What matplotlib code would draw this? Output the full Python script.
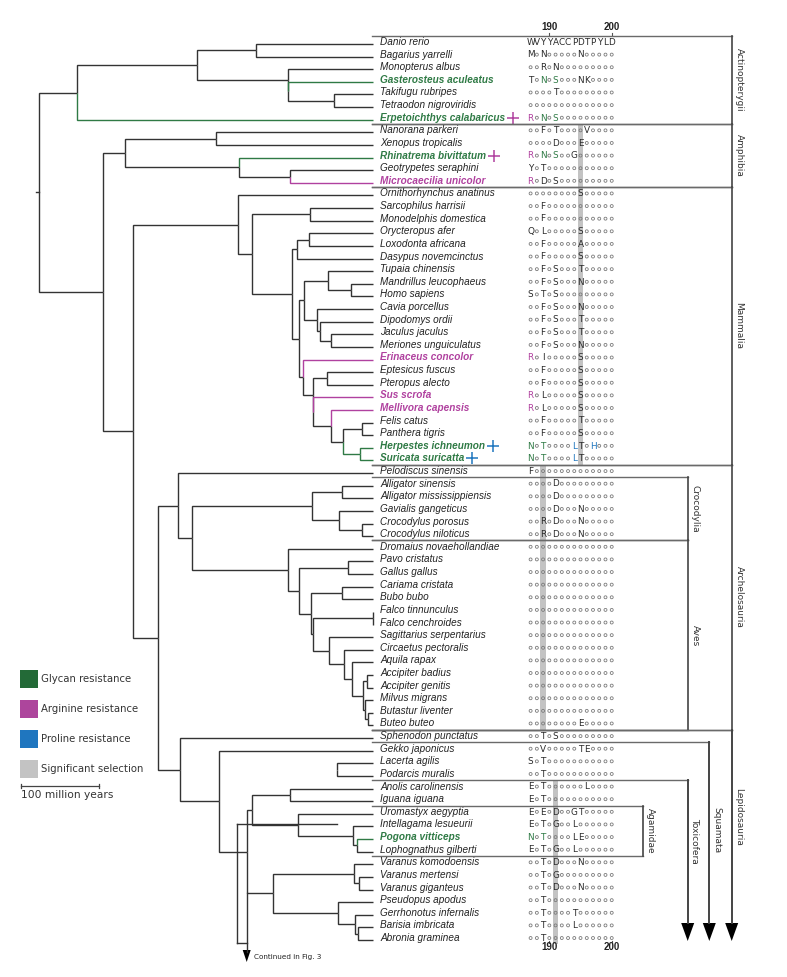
import matplotlib
matplotlib.use("Agg")
import matplotlib.pyplot as plt
from matplotlib.patches import Rectangle, Polygon
from collections import defaultdict

# ======================= DATA =======================
SPECIES = [
    "Danio rerio", "Bagarius yarrelli", "Monopterus albus", "Gasterosteus aculeatus",
    "Takifugu rubripes", "Tetraodon nigroviridis", "Erpetoichthys calabaricus",
    "Nanorana parkeri", "Xenopus tropicalis", "Rhinatrema bivittatum",
    "Geotrypetes seraphini", "Microcaecilia unicolor",
    "Ornithorhynchus anatinus", "Sarcophilus harrisii", "Monodelphis domestica",
    "Orycteropus afer", "Loxodonta africana", "Dasypus novemcinctus", "Tupaia chinensis",
    "Mandrillus leucophaeus", "Homo sapiens", "Cavia porcellus", "Dipodomys ordii",
    "Jaculus jaculus", "Meriones unguiculatus", "Erinaceus concolor", "Eptesicus fuscus",
    "Pteropus alecto", "Sus scrofa", "Mellivora capensis", "Felis catus", "Panthera tigris",
    "Herpestes ichneumon", "Suricata suricatta",
    "Pelodiscus sinensis", "Alligator sinensis", "Alligator mississippiensis",
    "Gavialis gangeticus", "Crocodylus porosus", "Crocodylus niloticus",
    "Dromaius novaehollandiae", "Pavo cristatus", "Gallus gallus", "Cariama cristata",
    "Bubo bubo", "Falco tinnunculus", "Falco cenchroides", "Sagittarius serpentarius",
    "Circaetus pectoralis", "Aquila rapax", "Accipiter badius", "Accipiter genitis",
    "Milvus migrans", "Butastur liventer", "Buteo buteo",
    "Sphenodon punctatus", "Gekko japonicus", "Lacerta agilis", "Podarcis muralis",
    "Anolis carolinensis", "Iguana iguana", "Uromastyx aegyptia", "Intellagama lesueurii",
    "Pogona vitticeps", "Lophognathus gilberti", "Varanus komodoensis", "Varanus mertensi",
    "Varanus giganteus", "Pseudopus apodus", "Gerrhonotus infernalis", "Barisia imbricata",
    "Abronia graminea",
]

SPECIES_PARENT = [
    "Otophysi", "Otophysi", "Percomorpha", "Percomorpha_b", "Tetraodontidae", "Tetraodontidae",
    "Actinopterygii",
    "Anura", "Anura", "Gymnophiona", "Teresomata", "Teresomata",
    "Mammalia", "Marsupialia", "Marsupialia", "Afrotheria", "Afrotheria", "Atlantogenata",
    "Euarchonta", "Catarrhini", "Catarrhini", "Rodentia", "Rodentia_b", "Dipodoidea",
    "Dipodoidea", "Laurasiatheria", "Chiroptera", "Chiroptera", "Fereuungulata",
    "Carnivora_b", "Felidae", "Felidae", "Herpestidae", "Herpestidae",
    "Archelosauria", "Alligator", "Alligator", "Longirostres", "Crocodylus", "Crocodylus",
    "Aves", "Galloanserae", "Galloanserae", "Telluraves_a", "Telluraves_a", "Falco", "Falco",
    "Accipitriformes", "Accipitridae_a", "Accipitridae_b", "Accipiter", "Accipiter",
    "Buteoninae_a", "Buteoninae_b", "Buteoninae_b",
    "Lepidosauria", "Squamata", "Lacertidae", "Lacertidae", "Pleurodonta", "Pleurodonta",
    "Agamidae", "Agamidae_b", "Agamidae_c", "Agamidae_c", "Varanidae", "Varanus_b",
    "Varanus_b", "Anguidae", "Anguidae_b", "Anguidae_c", "Anguidae_c",
]

# resistance type of highlighted species: g = glycan, m = arginine
SPECIES_STATUS = {
    "Gasterosteus aculeatus": "g", "Erpetoichthys calabaricus": "g",
    "Rhinatrema bivittatum": "g", "Microcaecilia unicolor": "m",
    "Erinaceus concolor": "m", "Sus scrofa": "m", "Mellivora capensis": "m",
    "Herpestes ichneumon": "g", "Suricata suricatta": "g", "Pogona vitticeps": "g",
}
# additional resistance marks (+) after names
PLUS_MARK = {
    "Erpetoichthys calabaricus": "m", "Rhinatrema bivittatum": "m",
    "Herpestes ichneumon": "b", "Suricata suricatta": "b",
}

# internal nodes: name, parent, age (million years)
NODE_NAMES = [
    "root", "Actinopterygii", "Clupeocephala", "Otophysi", "Percomorpha", "Percomorpha_b",
    "Tetraodontidae",
    "Tetrapoda", "Amphibia", "Anura", "Gymnophiona", "Teresomata", "Amniota", "Mammalia",
    "Theria", "Marsupialia", "Eutheria", "Atlantogenata", "Afrotheria", "Boreoeutheria",
    "Euarchontoglires", "Euarchonta", "Catarrhini", "Rodentia", "Rodentia_b", "Dipodoidea",
    "Laurasiatheria", "Scrotifera", "Chiroptera", "Fereuungulata", "Carnivora_b",
    "Carnivora", "Felidae", "Herpestidae",
    "Sauropsida", "Archelosauria", "Archosauria", "Crocodylia", "Alligator", "Longirostres",
    "Crocodylus", "Aves", "Neognathae", "Galloanserae", "Neoaves", "Telluraves_a",
    "Telluraves_b", "Falco", "Accipitriformes", "Accipitridae_a", "Accipitridae_b",
    "Accipitridae_c", "Accipiter", "Buteoninae_a", "Buteoninae_b",
    "Lepidosauria", "Squamata", "Toxicofera", "Iguania", "Pleurodonta", "Agamidae",
    "Agamidae_b", "Agamidae_c", "Anguimorpha", "Varanidae", "Varanus_b", "Anguidae",
    "Anguidae_b", "Anguidae_c", "Lacertidae",
]
NODE_PARENTS = [
    None, "root", "Actinopterygii", "Clupeocephala", "Clupeocephala", "Percomorpha",
    "Percomorpha_b",
    "root", "Tetrapoda", "Amphibia", "Amphibia", "Gymnophiona", "Tetrapoda", "Amniota",
    "Mammalia", "Theria", "Theria", "Eutheria", "Atlantogenata", "Eutheria",
    "Boreoeutheria", "Euarchontoglires", "Euarchonta", "Euarchontoglires", "Rodentia",
    "Rodentia_b", "Boreoeutheria", "Laurasiatheria", "Scrotifera", "Scrotifera",
    "Fereuungulata", "Carnivora_b", "Carnivora", "Carnivora",
    "Amniota", "Sauropsida", "Archelosauria", "Archosauria", "Crocodylia", "Crocodylia",
    "Longirostres", "Archosauria", "Aves", "Neognathae", "Neognathae", "Neoaves", "Neoaves",
    "Telluraves_b", "Telluraves_b", "Accipitriformes", "Accipitridae_a", "Accipitridae_b",
    "Accipitridae_c", "Accipitridae_c", "Buteoninae_a",
    "Sauropsida", "Lepidosauria", "Squamata", "Toxicofera", "Iguania", "Iguania",
    "Agamidae", "Agamidae_b", "Toxicofera", "Anguimorpha", "Varanidae", "Anguimorpha",
    "Anguidae", "Anguidae_b", None,
]
NODE_AGES = [
    427, 378, 225, 149, 108, 108, 50,
    345, 317, 200, 171, 106, 306, 173, 155, 80, 103, 97, 82, 94.5, 88, 58, 28.5, 71, 67.5,
    53.6, 90, 77, 59, 77, 54, 38, 13.7, 16.6,
    274, 249, 231.5, 78, 39, 43, 13.7, 108, 95, 31.5, 79.6, 39.2, 77, 0.4, 56, 37, 27.2,
    13.2, 7.3, 10.2, 6.8,
    246.5, 197, 161.3, 154.1, 106, 96.2, 25.2, 20.8, 128.1, 24.3, 17.5, 44.3, 23, 19.5, 45.6,
]
NODE_STATUS = {"Herpestidae": "g"}

# unresolved branches drawn in the figure (age of vertical, rows, tip ages)
UNRESOLVED_AGE = 174
UNRESOLVED_ROWS = [61.8, 71.2]
UNRESOLVED_TIP_AGES = [45.6, 161.3]
CONTINUED_NODE = "Toxicofera"

# alignment (positions 187-200); '.' = identical to Danio rerio
ALIGN_START = 187
ALIGN = [
    "WVYYACCPDTPYLD", "M.N.....N.....", "..R.N.........", "T.N.S...NK....",
    "....T.........", "..............", "R.N.S.........",
    "..F.T....V....", "....D...E.....", "R.N.S..G......", "Y.T...........",
    "R.D.S.........",
    "........S.....", "..F...........", "..F...........", "Q.L.....S.....",
    "..F.....A.....", "..F.....S.....", "..F.S...T.....", "..F.S...N.....",
    "S.T.S.........", "..F.S...N.....", "..F.S...T.....", "..F.S...T.....",
    "..F.S...N.....", "R.I.....S.....", "..F.....S.....", "..F.....S.....",
    "R.L.....S.....", "R.L.....S.....", "..F.....T.....", "..F.....S.....",
    "N.T....LT.H...", "N.T....LT.....",
    "F.............", "....D.........", "....D.........", "....D...N.....",
    "..R.D...N.....", "..R.D...N.....",
    "..............", "..............", "..............", "..............",
    "..............", "..............", "..............", "..............",
    "..............", "..............", "..............", "..............",
    "..............", "..............", "........E.....",
    "..T.S.........", "..V.....TE....", "S.T...........", "..T...........",
    "E.T......L....", "E.T...........", "E.E.D..GT.....", "E.T.G..L......",
    "N.T....LE.....", "E.T.G..L......", "..T.D...N.....", "..T.G.........",
    "..T.D...N.....", "..T...........", "..T....T......", "..T....L......",
    "..T...........",
]
ALIGN_COLOR = {
    "Gasterosteus aculeatus": "..g.g.........",
    "Erpetoichthys calabaricus": "m.g.g.........",
    "Rhinatrema bivittatum": "m.g.g.........",
    "Microcaecilia unicolor": "m.............",
    "Erinaceus concolor": "m.............",
    "Sus scrofa": "m.............",
    "Mellivora capensis": "m.............",
    "Herpestes ichneumon": "g.g....b..b...",
    "Suricata suricatta": "g.g....b......",
    "Pogona vitticeps": "g.g...........",
}
POS_TICKS = [190, 200]
SELECTION_POS = [195, 189, 191]
SELECTION_FIRST = [7, 34, 59]
SELECTION_LAST = [33, 54, 71]

CLADES = ["Actinopterygii", "Amphibia", "Mammalia", "Archelosauria", "Crocodylia", "Aves",
          "Lepidosauria", "Squamata", "Toxicofera", "Agamidae"]
CLADE_FIRST = [0, 7, 12, 34, 35, 40, 55, 56, 59, 61]
CLADE_LAST = [6, 11, 33, 54, 39, 54, 71, 71, 71, 64]
CLADE_LEVEL = [0, 0, 0, 0, 2, 2, 0, 1, 2, 3]
CLADE_OPEN = [False, False, False, False, False, False, True, True, True, False]

LEGEND_LABELS = ["Glycan resistance", "Arginine resistance", "Proline resistance",
                 "Significant selection"]
LEGEND_KEYS = ["g", "m", "b", "s"]
SCALE_MYR = 100

# ======================= STYLE / LAYOUT =======================
W, H = 787, 977
COL = {"g": "#2f7a45", "m": "#b0419f", "b": "#1f76bf", "s": "#c3c3c3", "": "#333333"}
LEG_COL = {"g": "#236a37", "m": "#ad459c", "b": "#1f76bf", "s": "#c3c3c3"}
TREE_COL = "#333333"
SEP_COL = "#6a6a6a"
ROW0, ROW_H, TREE_DY = 42.0, 12.62, 2.0
X_PRESENT, PX_PER_MYR = 373.0, 0.783
NAME_X = 380
COL0_X, COL_W = 530.6, 6.24
SEP_X0 = 372
LEVEL_X = {0: 731.7, 1: 709.3, 2: 687.7, 3: 643.3}
ARROW_BASE, ARROW_TIP, ARROW_HW = 923, 941, 6.5
OPEN_LABEL_Y = {"Lepidosauria": 817, "Squamata": 830, "Toxicofera": 841}

fig = plt.figure(figsize=(W / 100, H / 100), dpi=100)
ax = fig.add_axes([0, 0, 1, 1])
ax.set_xlim(0, W)
ax.set_ylim(H, 0)
ax.axis("off")


def row_y(i):
    return ROW0 + ROW_H * i


def xpos(age):
    return X_PRESENT - age * PX_PER_MYR


def col_x(c):
    return COL0_X + COL_W * c


# ---------------- tree ----------------
age_of = dict(zip(NODE_NAMES, NODE_AGES))
children = defaultdict(list)
for n, p in zip(NODE_NAMES, NODE_PARENTS):
    if p is not None:
        children[p].append(("node", n))
for i, p in enumerate(SPECIES_PARENT):
    children[p].append(("leaf", i))

ycache = {}


def item_y(item):
    kind, key = item
    if kind == "leaf":
        return row_y(key) + TREE_DY
    if key in ycache:
        return ycache[key]
    ys = [item_y(c) for c in children[key]]
    ycache[key] = (min(ys) + max(ys)) / 2
    return ycache[key]


def item_x(item):
    kind, key = item
    return X_PRESENT if kind == "leaf" else xpos(age_of[key])


def item_color(item):
    kind, key = item
    st = SPECIES_STATUS.get(SPECIES[key], "") if kind == "leaf" else NODE_STATUS.get(key, "")
    return st


LW = 1.0
for n in NODE_NAMES:
    nx = xpos(age_of[n])
    ny = item_y(("node", n))
    for ch in children[n]:
        cy = item_y(ch)
        cx = item_x(ch)
        st = item_color(ch)
        z = 3 if st else 2
        ax.plot([nx, nx, cx], [ny, cy, cy], color=COL[st] if st else TREE_COL,
                lw=LW, zorder=z, solid_joinstyle="miter", solid_capstyle="butt")

# root stub
ry = item_y(("node", "root"))
ax.plot([xpos(age_of["root"]) - 2.5, xpos(age_of["root"])], [ry, ry], color=TREE_COL, lw=LW)

# unresolved branches
ux = xpos(UNRESOLVED_AGE)
uy = [r * ROW_H + ROW0 + TREE_DY for r in UNRESOLVED_ROWS]
ax.plot([ux, ux], uy, color=TREE_COL, lw=LW)
for yy, ta in zip(uy, UNRESOLVED_TIP_AGES):
    ax.plot([ux, xpos(ta)], [yy, yy], color=TREE_COL, lw=LW)

# continued arrow
cx = xpos(age_of[CONTINUED_NODE])
cy0 = max(item_y(c) for c in children[CONTINUED_NODE])
ax.plot([cx, cx], [cy0, 952], color=TREE_COL, lw=LW)
ax.add_patch(Polygon([[cx - 4, 950], [cx + 4, 950], [cx, 962]], closed=True,
                     color="black", lw=0))
ax.text(cx + 7, 956.5, "Continued in Fig. 3", fontsize=5.2, family="DejaVu Sans",
        va="center", ha="left", color="#222")

# ---------------- names ----------------
name_texts = []
for i, s in enumerate(SPECIES):
    st = SPECIES_STATUS.get(s, "")
    t = ax.text(NAME_X, row_y(i), s, fontsize=7.2, family="Liberation Sans", style="italic",
                fontweight="bold" if st else "normal", color=COL[st] if st else "#222",
                va="center", ha="left")
    name_texts.append(t)

fig.canvas.draw()
renderer = fig.canvas.get_renderer()
inv = ax.transData.inverted()
for i, s in enumerate(SPECIES):
    if s in PLUS_MARK:
        bb = name_texts[i].get_window_extent(renderer)
        x1 = inv.transform((bb.x1, bb.y0))[0]
        ax.plot(x1 + 8, row_y(i), marker="+", ms=8, mew=1.1, color=COL[PLUS_MARK[s]])

# ---------------- alignment ----------------
for p, r0, r1 in zip(SELECTION_POS, SELECTION_FIRST, SELECTION_LAST):
    c = p - ALIGN_START
    ax.add_patch(Rectangle((col_x(c) - 2.8, row_y(r0) - ROW_H / 2), 5.6,
                           (r1 - r0 + 1) * ROW_H, color=COL["s"], lw=0, zorder=1))

dx, dy = [], []
for i, seq in enumerate(ALIGN):
    mask = ALIGN_COLOR.get(SPECIES[i], "." * len(seq))
    y = row_y(i)
    for c, ch in enumerate(seq):
        if ch == ".":
            dx.append(col_x(c))
            dy.append(y)
        else:
            k = mask[c] if mask[c] != "." else ""
            ax.text(col_x(c), y + 0.3, ch, fontsize=6.4, family="DejaVu Sans",
                    color=COL[k] if k else "#2a2a2a", ha="center", va="center", zorder=4)
ax.scatter(dx, dy, s=4.5, facecolors="none", edgecolors="#7a7a7a", linewidths=0.6, zorder=4)

for p in POS_TICKS:
    x = col_x(p - ALIGN_START)
    ax.text(x, 27.5, str(p), fontsize=7, family="Liberation Sans", fontweight="bold",
            ha="center", va="center", color="#222")
    ax.plot([x, x], [32.5, 35], color="#555", lw=0.8)
    ax.text(x, 947.5, str(p), fontsize=7, family="Liberation Sans", fontweight="bold",
            ha="center", va="center", color="#222")
    ax.plot([x, x], [940.5, 943], color="#555", lw=0.8)

# ---------------- clade brackets ----------------
for name, f, l, lev, op in zip(CLADES, CLADE_FIRST, CLADE_LAST, CLADE_LEVEL, CLADE_OPEN):
    bx = LEVEL_X[lev]
    top = row_y(f) - ROW_H / 2
    ax.plot([SEP_X0, bx], [top, top], color=SEP_COL, lw=1.0)
    if op:
        bot = ARROW_BASE
        ax.plot([bx, bx], [top, bot], color="#444", lw=1.4)
        ax.add_patch(Polygon([[bx - ARROW_HW, ARROW_BASE], [bx + ARROW_HW, ARROW_BASE],
                              [bx, ARROW_TIP]], closed=True, color="black", lw=0))
        ly = OPEN_LABEL_Y[name]
    else:
        bot = row_y(l) + ROW_H / 2
        ax.plot([SEP_X0, bx], [bot, bot], color=SEP_COL, lw=1.0)
        ax.plot([bx, bx], [top, bot], color="#444", lw=1.2)
        ly = (top + bot) / 2
    ax.text(bx + 7.3, ly, name, rotation=-90, fontsize=6.5, family="DejaVu Sans",
            ha="center", va="center", color="#333")

# ---------------- legend & scale ----------------
for k, (lab, key) in enumerate(zip(LEGEND_LABELS, LEGEND_KEYS)):
    yc = 679 + 30 * k
    ax.add_patch(Rectangle((20, yc - 8.8), 17.7, 17.7, color=LEG_COL[key], lw=0))
    ax.text(41, yc, lab, fontsize=7.3, family="DejaVu Sans", va="center", ha="left",
            color="#333")

sx0, sx1 = 20.7, 20.7 + SCALE_MYR * PX_PER_MYR
ax.plot([sx0, sx1], [786, 786], color="#444", lw=0.9)
ax.plot([sx0, sx0], [784, 788], color="#444", lw=0.9)
ax.plot([sx1, sx1], [784, 788], color="#444", lw=0.9)
ax.text(sx0, 795.5, f"{SCALE_MYR} million years", fontsize=7.7, family="DejaVu Sans",
        va="center", ha="left", color="#333")

fig.savefig("out.png", dpi=100)
